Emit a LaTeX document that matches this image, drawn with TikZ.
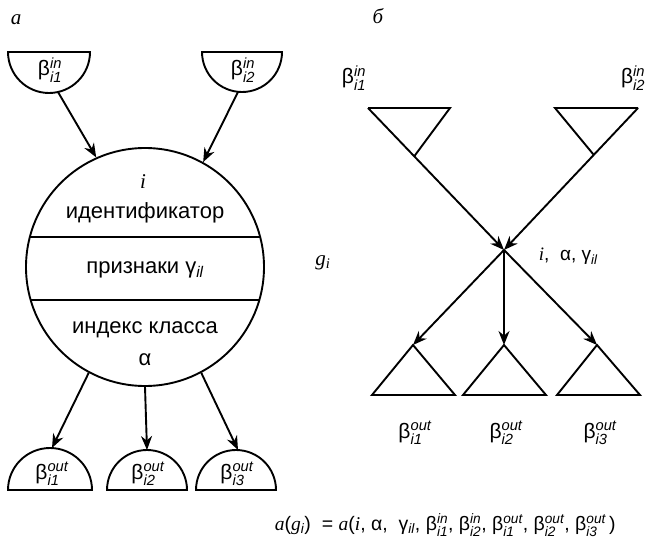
\documentclass[tikz,border=0pt]{standalone}
\usepackage{amsmath}
\usepackage{fontspec}
\setmainfont{Liberation Sans}
\newfontfamily\serifit{Liberation Serif}
\usetikzlibrary{arrows.meta,calc}

% italic serif variable
\newcommand\vr[1]{{\serifit\itshape #1}}
% Greek letter with italic super- and subscript
\newcommand\bt[3]{#1$^{\text{\itshape #2}}_{\text{\itshape #3}}$}

\begin{document}
\begin{tikzpicture}[x=1pt,y=-1pt,
  line width=1.9pt,
  arr/.style={-{Stealth[length=14pt,width=11pt]}},
  lbl/.style={inner sep=0pt, font=\fontsize{21}{25}\selectfont},
  txt/.style={inner sep=0pt, font=\fontsize{22}{26}\selectfont},
  var/.style={inner sep=0pt, font=\fontsize{21}{25}\selectfont\serifit\itshape},
]
\useasboundingbox (0,0) rectangle (647,551);

% ---------- panel a: object as a circle with input/output links ----------
\node[var] (pa) at (16,20) {а};

% input half-discs
\draw (8,52) -- (90,52) arc[start angle=0,end angle=180,radius=41] -- cycle;
\draw (202,52) -- (282,52) arc[start angle=0,end angle=180,radius=40] -- cycle;
\node[lbl] (h1) at (50,70) {\bt{β}{in}{i1}};
\node[lbl] (h2) at (243,70) {\bt{β}{in}{i2}};
\coordinate (h1o) at (58,92);
\coordinate (h2o) at (238,92);

% the object
\node[draw, circle, minimum size=238pt, inner sep=0pt] (obj) at (145,267) {};
\draw (29.8,237) -- (260.2,237);
\draw (30.7,300) -- (259.3,300);
\node[var] (oi) at (143,182) {i};
\node[txt] (oid) at (145,213) {идентификатор};
\node[txt] (opr) at (145,270) {признаки γ$_{\text{\itshape il}}$};
\node[txt] (ocl) at (145,330) {индекс класса};
\node[txt] (oal) at (145,360) {α};

\draw[arr] (h1o) -- (obj.114);
\draw[arr] (h2o) -- (obj.61);

% output half-discs
\draw (8,490) -- (92,490) arc[start angle=0,end angle=-180,radius=42] -- cycle;
\draw (107,490) -- (187,490) arc[start angle=0,end angle=-180,radius=40] -- cycle;
\draw (196,490) -- (276,490) arc[start angle=0,end angle=-180,radius=40] -- cycle;
\node[lbl] (g1) at (52,474) {\bt{β}{out}{i1}};
\node[lbl] (g2) at (148,474) {\bt{β}{out}{i2}};
\node[lbl] (g3) at (237,474) {\bt{β}{out}{i3}};
\coordinate (g1i) at (52,448);
\coordinate (g2i) at (147,450);
\coordinate (g3i) at (238,450);

\draw[arr] (obj.242) -- (g1i);
\draw[arr] (obj.270) -- (g2i);
\draw[arr] (obj.298) -- (g3i);

% ---------- panel b: object as a graph vertex ----------
\node[var] (pb) at (378,16) {б};

\coordinate (c) at (504,250);

% input triangles
\coordinate (t1a) at (368,108);
\coordinate (t1b) at (450,108);
\coordinate (t1c) at ($(t1a)!0.34!(c)$);
\draw (t1a) -- (t1b) -- (t1c);
\draw[arr] (t1a) -- (c);

\coordinate (t2a) at (555,108);
\coordinate (t2b) at (638,108);
\coordinate (t2c) at ($(t2b)!0.33!(c)$);
\draw (t2b) -- (t2a) -- (t2c);
\draw[arr] (t2b) -- (c);

\node[lbl] (r1) at (354,78) {\bt{β}{in}{i1}};
\node[lbl, anchor=east] (r2) at (646,78) {\bt{β}{in}{i2}};

% output triangles
\coordinate (b1) at (413,345);
\coordinate (b2) at (504,345);
\coordinate (b3) at (597,345);
\draw (b1) -- (372,395) -- (455,395) -- cycle;
\draw (b2) -- (463,395) -- (546,395) -- cycle;
\draw (b3) -- (557,395) -- (640,395) -- cycle;
\draw[arr] (c) -- (b1);
\draw[arr] (c) -- (b2);
\draw[arr] (c) -- (b3);

\node[lbl] (s1) at (415,433) {\bt{β}{out}{i1}};
\node[lbl] (s2) at (506,433) {\bt{β}{out}{i2}};
\node[lbl] (s3) at (600,433) {\bt{β}{out}{i3}};

\node[lbl, anchor=west, font=\fontsize{19}{23}\selectfont] (attr) at (538,256)
  {\vr{i}, \ α, γ$_{\text{\itshape il}}$};
\node[var] (gi) at (323,263) {g$_{\text{\itshape i}}$};

% ---------- formula ----------
\node[inner sep=0pt, anchor=west, font=\fontsize{19.5}{23}\selectfont] (frm) at (274,525)
  {\vr{a}(\vr{g}$_{\text{\itshape i}}$) \ = \vr{a}(\vr{i}, α, \ γ$_{\text{\itshape il}}$,
   \bt{β}{in}{i1}, \bt{β}{in}{i2}, \bt{β}{out}{i1}, \bt{β}{out}{i2}, \bt{β}{out}{i3}\,)};
\end{tikzpicture}
\end{document}
